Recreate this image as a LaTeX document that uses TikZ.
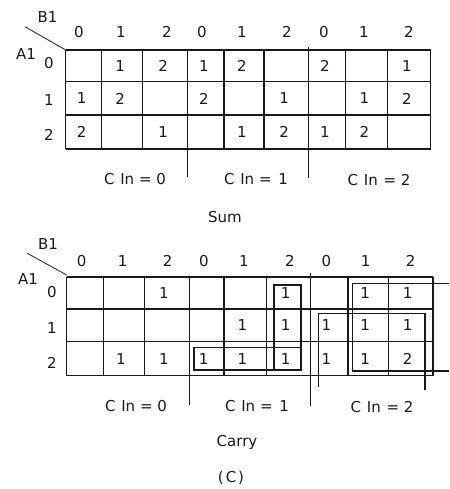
\documentclass[tikz,border=0pt]{standalone}
\usepackage{fontspec}
\setmainfont{DejaVu Sans}
\begin{document}
\begin{tikzpicture}[x=1pt,y=-1pt,
  gridln/.style={line width=1.3pt, black!90},
  sepln/.style={line width=1.5pt, black!90},
  grp/.style={line width=1.1pt, black!90},
  txt/.style={inner sep=0pt, font=\fontsize{15}{18}\selectfont, text=black!90},
  diag/.style={line width=0.9pt, black!80}]
\useasboundingbox[fill=white] (0,0) rectangle (449,489);

% ---------------- Sum map ----------------
\foreach \x in {65.7,101.7,142.7,187.7,224,264,308.3,345.7,387.3,430.7}
  \draw[gridln] (\x,50) -- (\x,149);
\foreach \y in {50,81.7,115,149}
  \draw[gridln] (65.7,\y) -- (430.7,\y);
\draw[sepln] (187.7,50) -- (187.7,177);
\draw[sepln] (308.3,47) -- (308.3,178);

\node[txt] (tB1) at (47.5,17) {B1};
\node[txt] (tA1) at (26,54) {A1};
\coordinate (td1) at (25,26.7);
\coordinate (td2) at (65.7,50);
\draw[diag] (td1) -- (td2);

\foreach \x/\v [count=\i] in {79/0,121/1,167/2,202/0,242/1,287/2,324/0,364/1,409/2}
  \node[txt] (th\i) at (\x,32) {\v};
\foreach \y/\v [count=\i] in {63/0,100/1,135/2}
  \node[txt] (tr\i) at (49,\y) {\v};

\foreach \c/\r/\v in {1/0/1,2/0/2,3/0/1,4/0/2,6/0/2,8/0/1,
                      0/1/1,1/1/2,3/1/2,5/1/1,7/1/1,8/1/2,
                      0/2/2,2/2/1,4/2/1,5/2/2,6/2/1,7/2/2}{
  \pgfmathsetmacro\xx{{83.7,122.2,165.2,205.85,244,286.15,327,366.5,409}[\c]-2}
  \pgfmathsetmacro\yy{{66,98.5,132}[\r]}
  \node[txt] (t\r\c) at (\xx,\yy) {\v};
}

\node[txt] (tc0) at (135,179) {C\hspace{1pt} In = 0};
\node[txt] (tc1) at (256,179) {C\hspace{1pt} In = \hspace{2pt}1};
\node[txt] (tc2) at (379,180) {C\hspace{1pt} In \hspace{1pt}= 2};
\node[txt] (sum) at (225,217) {Sum};

% ---------------- Carry map ----------------
\foreach \x in {66.7,103.3,144.3,189.3,224,266.7,310.7,348,388.3,433}
  \draw[gridln] (\x,277) -- (\x,375.5);
\foreach \y in {277,309,341.7,375.5}
  \draw[gridln] (66.7,\y) -- (433,\y);
\draw[sepln] (189.3,277) -- (189.3,405);
\draw[sepln] (310.7,273) -- (310.7,406);

\node[txt] (bB1) at (48,244) {B1};
\node[txt] (bA1) at (28,279) {A1};
\coordinate (bd1) at (27.3,253.3);
\coordinate (bd2) at (66.7,275);
\draw[diag] (bd1) -- (bd2);

\foreach \x/\v [count=\i] in {81.7/0,122.7/1,167.7/2,204/0,244/1,290/2,326.3/0,365.7/1,410.7/2}
  \node[txt] (bh\i) at (\x,260.7) {\v};
\foreach \y/\v [count=\i] in {291.7/0,328.3/1,363.3/2}
  \node[txt] (br\i) at (52,\y) {\v};

\foreach \c/\r/\v in {2/0/1,5/0/1,7/0/1,8/0/1,
                      4/1/1,5/1/1,6/1/1,7/1/1,8/1/1,
                      1/2/1,2/2/1,3/2/1,4/2/1,5/2/1,6/2/1,7/2/1,8/2/2}{
  \pgfmathsetmacro\xx{{85,123.8,166.8,206.65,245.35,288.7,329.35,368.15,410.65}[\c]-3}
  \pgfmathsetmacro\yy{{293,325.35,358.6}[\r]}
  \node[txt] (b\r\c) at (\xx,\yy) {\v};
}

% groupings
\draw[grp] (194,347.7) rectangle (300.5,370);
\draw[grp] (274,285) rectangle (301,370);
\draw[grp] (449,283.3) -- (352.3,283.3) -- (352.3,371) -- (449,371);
\draw[grp] (318.3,386.7) -- (318.3,313.3) -- (425,313.3) -- (425,390);

\node[txt] (bc0) at (136,406) {C\hspace{1pt} In = 0};
\node[txt] (bc1) at (257,406) {C\hspace{1pt} In = \hspace{2pt}1};
\node[txt] (bc2) at (382,407) {C\hspace{1pt} In \hspace{1pt}= 2};
\node[txt] (carry) at (237,442) {Carry};
\node[txt] (cap) at (231,478) {(\hspace{2pt}C\hspace{2pt})};
\end{tikzpicture}
\end{document}
